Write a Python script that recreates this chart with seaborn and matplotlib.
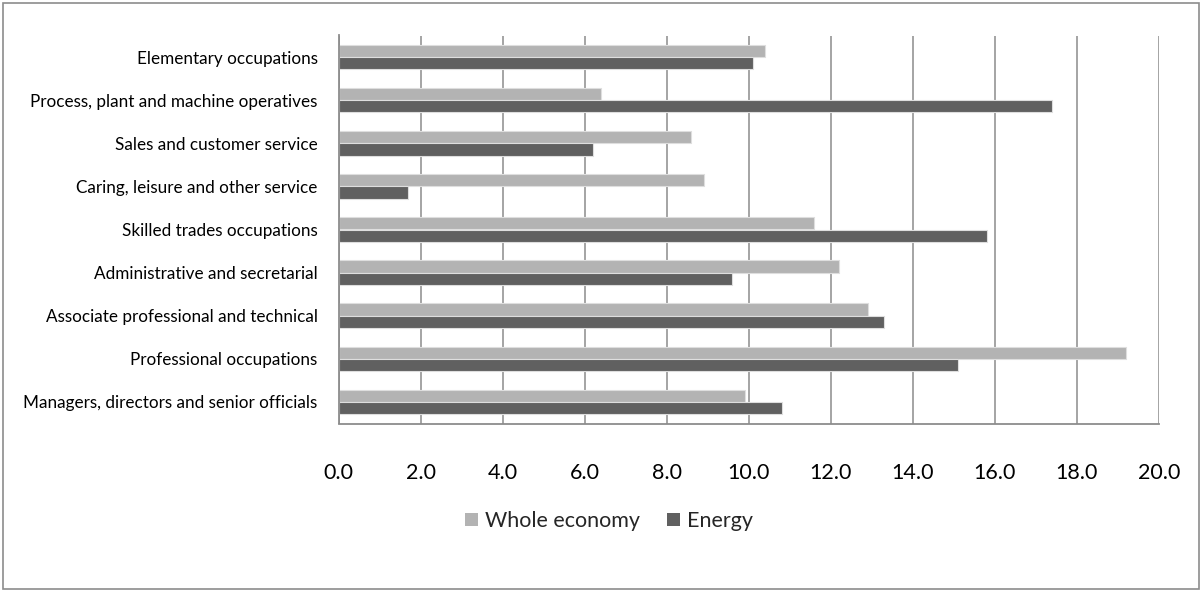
import matplotlib
matplotlib.use("Agg")
import matplotlib.pyplot as plt
from matplotlib.patches import Rectangle, Patch
from matplotlib.ticker import FixedLocator
import seaborn as sns
import pandas as pd
import numpy as np

categories = [
    "Elementary occupations",
    "Process, plant and machine operatives",
    "Sales and customer service",
    "Caring, leisure and other service",
    "Skilled trades occupations",
    "Administrative and secretarial",
    "Associate professional and technical",
    "Professional occupations",
    "Managers, directors and senior officials",
]
whole_economy = [10.4, 6.4, 8.6, 8.9, 11.6, 12.2, 12.9, 19.2, 9.9]
energy = [10.1, 17.4, 6.2, 1.7, 15.8, 9.6, 13.3, 15.1, 10.8]
series_names = ["Whole economy", "Energy"]
series_colors = ["#b3b3b3", "#606060"]
x_ticks = [0, 2, 4, 6, 8, 10, 12, 14, 16, 18, 20]

df = pd.DataFrame({
    "Occupation": categories * 2,
    "Share": whole_economy + energy,
    "Series": [series_names[0]] * len(categories) + [series_names[1]] * len(categories),
})

sns.set_style("white")
plt.rcParams["font.family"] = ["Lato", "DejaVu Sans"]

fig = plt.figure(figsize=(12.03, 5.92), dpi=100)
ax = fig.add_axes([338.5 / 1203, 1 - 423.5 / 592, (1159 - 338.5) / 1203, (423.5 - 35.5) / 592])

sns.barplot(
    data=df, y="Occupation", x="Share", hue="Series",
    order=categories, hue_order=series_names, palette=series_colors,
    orient="h", width=0.57, edgecolor="#dedede", linewidth=0.8,
    legend=False, ax=ax, zorder=3,
)

grid_c = "#8c8c8c"
ax.set_xlim(0, 20)
ax.set_ylim(len(categories) - 0.5, -0.5)
ax.xaxis.set_major_locator(FixedLocator(x_ticks))
ax.set_xticklabels([f"{v:.1f}" for v in x_ticks], fontsize=15.5)
ax.grid(axis="x", color=grid_c, linewidth=1.1, zorder=0)
ax.set_axisbelow(True)
ax.set_xlabel("")
ax.set_ylabel("")

for side in ["top", "right"]:
    ax.spines[side].set_visible(False)
for side in ["left", "bottom"]:
    ax.spines[side].set_color(grid_c)
    ax.spines[side].set_linewidth(1.3)
    ax.spines[side].set_zorder(4)

ax.tick_params(axis="x", direction="out", length=6.5, width=1.1, color=grid_c, pad=22, labelcolor="#000000")
ax.tick_params(axis="y", which="major", length=0, pad=15, labelsize=12.3, labelcolor="#000000")
ax.yaxis.set_minor_locator(FixedLocator(np.arange(-0.5, len(categories), 1.0)))
ax.tick_params(axis="y", which="minor", direction="out", length=4.5, width=1.1, color=grid_c)

handles = [Patch(facecolor=c, edgecolor="none") for c in series_colors]
fig.legend(
    handles, series_names, loc="center", bbox_to_anchor=(609 / 1203, 1 - 521 / 592),
    ncol=2, frameon=False, fontsize=15.5, handlelength=0.6, handleheight=0.6,
    handletextpad=0.3, columnspacing=1.3,
)

fig.patches.append(Rectangle((3 / 1203, 3 / 592), 1196 / 1203, 586 / 592,
                             transform=fig.transFigure, fill=False,
                             edgecolor="#8c8c8c", linewidth=1.2))

fig.savefig("out.png", dpi=100)
